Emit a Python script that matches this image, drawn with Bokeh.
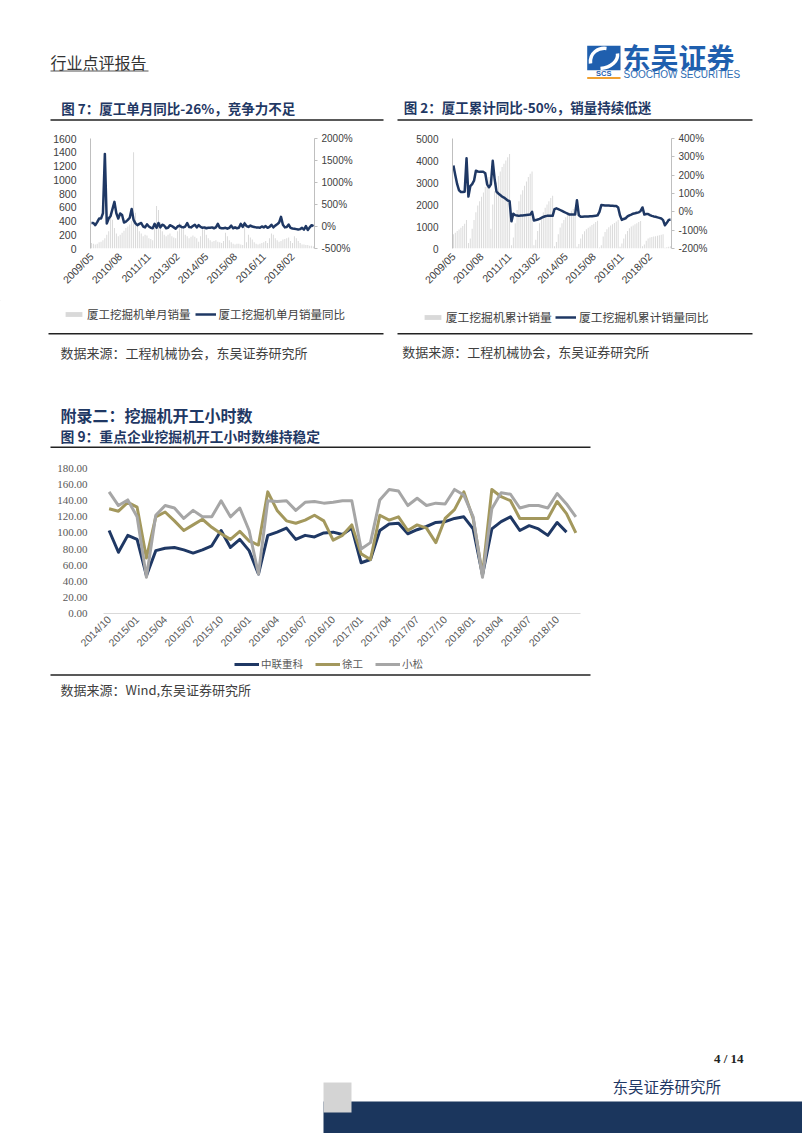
import math
import pandas as pd
from bokeh.plotting import figure
from bokeh.layouts import column, row
from bokeh.models import (Range1d, LinearAxis, SingleIntervalTicker, FixedTicker,
                          PrintfTickFormatter, Legend, LegendItem, Spacer)
from bokeh.core.properties import value
from bokeh.embed import file_html
from bokeh.resources import INLINE

# ---------------- data ----------------
# Xiagong excavator sales, monthly 2009/05 - 2019/01
xg_months = list(pd.period_range("2009-05", periods=117, freq="M").strftime("%Y/%m"))
xg_tick_labels = ["2009/05", "2010/08", "2011/11", "2013/02",
                  "2014/05", "2015/08", "2016/11", "2018/02"]

xg_monthly_sales = [
    80, 70, 60, 70, 90, 100, 120, 150,
    200, 250, 450, 420, 300, 220, 180, 200, 230, 260, 300, 320,
    350, 400, 1400, 520, 330, 250, 220, 180, 200, 190, 150, 140,
    120, 300, 620, 560, 380, 250, 200, 180, 200, 220, 180, 160,
    150, 250, 380, 350, 280, 200, 180, 150, 170, 190, 170, 150,
    100, 180, 330, 300, 200, 150, 120, 100, 110, 120, 100, 90,
    80, 110, 230, 180, 120, 90, 70, 60, 70, 70, 60, 50,
    400, 90, 200, 160, 130, 90, 70, 60, 70, 80, 90, 110,
    80, 150, 220, 200, 150, 120, 100, 110, 130, 140, 150, 160,
    110, 80, 180, 150, 110, 80, 60, 60, 50, 50, 40, 40,
    30]
xg_monthly_yoy = [
    80, 80, 30, 100, 180, 180, 300, 1650, 70, 180,
    240, 400, 560, 300, 180, 295, 260, 90, 110, 150,
    200, 400, 150, 70, 30, 60, 80, 0, -20, 50,
    0, -30, -40, 60, -30, 80, -20, 40, 20, -40,
    -30, 30, 10, -20, -50, 0, 20, -10, -20, 0,
    80, -10, -20, 10, 40, -20, 30, -10, -30, -20,
    -40, -30, -30, -20, -40, -20, 60, -30, -40, -40,
    -30, -50, -30, 20, -40, -20, -40, -30, 60, -10,
    70, 10, -10, 20, 0, -10, -20, -20, -30, 0,
    -20, 10, -30, -10, 40, -20, 20, 50, 90, 220,
    40, -20, -10, 45, -30, -45, -50, -60, -70, -60,
    -30, -70, 8, -80, -20, 30, 10]
xg_cum_sales = [
    650, 720, 790, 860, 940, 1020, 1120, 1300,
    250, 450, 900, 1300, 1650, 1950, 2150, 2350, 2550, 2800, 3050, 3250,
    900, 2000, 2600, 3000, 3300, 3500, 3700, 3850, 4000, 4150, 4300,
    150, 500, 1150, 1750, 2150, 2450, 2650, 2850, 3050, 3250, 3400, 3500,
    150, 400, 800, 1150, 1450, 1650, 1850, 2000, 2150, 2300, 2400,
    100, 300, 650, 950, 1150, 1300, 1420, 1520, 1620, 1720, 1800, 1870,
    80, 200, 450, 650, 780, 870, 940, 1000, 1070, 1130, 1200, 1260,
    50, 150, 550, 750, 880, 970, 1040, 1100, 1160, 1230, 1300,
    80, 230, 450, 650, 800, 920, 1000, 1050, 1100, 1150, 1200, 1250,
    100, 180, 350, 450, 500, 520, 540, 560, 580, 600, 620, 650,
    30, 60, 80, 100]
xg_cum_yoy = [
    253, 200, 151, 117, 108, 108, 110, 292, 83, 140,
    151, 170, 224, 220, 218, 218, 218, 210, 150, 134,
    150, 278, 180, 110, 100, 92, 83, 78, 70, 62,
    58, -52, -10, -18, -20, -22, -20, -20, -18, -17,
    -16, -15, 0, -47, -45, -42, -38, -33, -28, -24,
    -22, -22, -22, -22, 15, 19, 15, 10, 5, 0,
    -5, -10, -15, -15, -15, -15, 63, -19, -27, -27,
    -26, -25, -25, -24, -24, -23, -22, -19, 0, 37,
    36, 35, 35, 34, 33, 33, 32, 32, 24, -20,
    -44, -39, -35, -25, -19, -15, -10, -8, -5, -3,
    5, 24, -15, -12, -12, -18, -22, -25, -27, -30,
    -33, -36, -45, -73, -60, -44, -42]

# Excavator working hours, monthly 2014/10 - 2018/12
hours_months = list(pd.period_range("2014-10", periods=51, freq="M").strftime("%Y/%m"))
hours_tick_labels = ["2014/10", "2015/01", "2015/04", "2015/07", "2015/10",
                     "2016/01", "2016/04", "2016/07", "2016/10", "2017/01",
                     "2017/04", "2017/07", "2017/10", "2018/01", "2018/04",
                     "2018/07", "2018/10"]
series_names = ["中联重科", "徐工", "小松"]
zoomlion_hours = [103, 76, 97, 92, 47, 78, 81, 82, 79, 75,
                  79, 84, 103, 82, 92, 78, 49, 97, 101, 106,
                  92, 97, 95, 100, 101, 98, 106, 63, 67, 103,
                  111, 112, 99, 104, 108, 113, 114, 118, 120, 105,
                  48, 105, 114, 120, 103, 109, 105, 97, 113, 101]
xcmg_hours = [130, 127, 138, 132, 69, 120, 126, 115, 103, 110,
              117, 107, 99, 92, 102, 90, 85, 151, 128, 115,
              112, 116, 122, 115, 91, 97, 110, 74, 67, 122,
              116, 120, 103, 110, 106, 88, 118, 129, 151, 118,
              48, 154, 145, 140, 118, 118, 118, 118, 139, 124, 100]
komatsu_hours = [151, 134, 141, 120, 45, 122, 134, 131, 118, 128,
                 120, 120, 140, 120, 131, 103, 49, 140, 139, 140,
                 128, 138, 139, 137, 138, 140, 140, 80, 88, 141,
                 154, 152, 134, 143, 134, 137, 136, 154, 147, 120,
                 45, 130, 150, 148, 131, 134, 134, 131, 149, 136, 120]

# ---------------- styles ----------------
CJK = "Noto Sans CJK SC"
NAVY = "#1f3864"
BAR_GRAY = "#d9d9d9"
GOLD = "#a3985d"
LGRAY = "#a6a6a6"
LOGO_BLUE = "#1f5fae"
PAGE_W = 802


def deco(y_top, y_bottom):
    p = figure(width=PAGE_W, height=int(y_bottom - y_top), x_range=Range1d(0, PAGE_W),
               y_range=Range1d(y_bottom, y_top), min_border=0,
               toolbar_location=None, output_backend="svg",
               x_axis_type=None, y_axis_type=None, outline_line_color=None)
    return p


def txt(p, x, y, s, size, color, font=CJK, style="normal", align="left"):
    p.text(x=[x], y=[y], text=[s], text_font=value(font),
           text_font_size=value(size), text_color=color,
           text_font_style=style, text_align=align, text_baseline="middle")


def rule(p, x0, x1, y, width=1.5, color="#222222"):
    p.segment(x0=[x0], y0=[y], x1=[x1], y1=[y], line_color=color, line_width=width)


def make_legend(items, loc, font_size, glyph_w, spacing, standoff, label_h, color):
    return Legend(items=items, location=loc, orientation="horizontal",
                  border_line_color=None, background_fill_alpha=0, padding=0,
                  margin=0, spacing=spacing, label_standoff=standoff,
                  glyph_width=glyph_w, glyph_height=6, label_height=label_h,
                  label_text_font=CJK, label_text_font_size=font_size,
                  label_text_color=color)


# legend swatch renderers sit off-screen (outside the band's range)
OFF = [-50, -40]

# ---------------- header band (y 0..125) ----------------
A = deco(0, 125)
txt(A, 50, 61, "行业点评报告", "16px", "#333333")
rule(A, 50, 148, 70.5, 1.2, "#555555")
A.quad(left=[586.7], right=[620], top=[45.3], bottom=[69.7], fill_color=LOGO_BLUE, line_color=None)
A.bezier(x0=[590, 600], y0=[63, 68], x1=[606, 617], y1=[48, 53],
         cx0=[589, 611], cy0=[52, 67], cx1=[598, 618], cy1=[47, 60],
         line_color="white", line_width=3.5)
txt(A, 603.3, 73, "SCS", "7.5px", LOGO_BLUE, font="Liberation Sans", style="bold", align="center")
rule(A, 586.7, 620, 77.6, 2, "#f0a030")
txt(A, 622, 56.5, "东吴证券", "28px", LOGO_BLUE, style="bold")
txt(A, 623, 73.8, "SOOCHOW SECURITIES", "10px", "#2e6db4", font="Liberation Sans")
txt(A, 60.7, 107, "图 7：厦工单月同比-26%，竞争力不足", "13.5px", NAVY, style="bold")
txt(A, 403.3, 106.5, "图 2：厦工累计同比-50%，销量持续低迷", "13.5px", NAVY, style="bold")
rule(A, 50, 383, 119.5, 1.6)
rule(A, 397, 752, 119.5, 1.6)


def axis_common(ax, font, size, color):
    ax.major_label_text_font = font
    ax.major_label_text_font_size = size
    ax.major_label_text_color = color
    ax.minor_tick_line_color = None


xg_idx = list(range(len(xg_months)))
xg_ticks = [xg_months.index(t) for t in xg_tick_labels]


def xg_chart(width, bl, br, bt, bb, bars, yoy, ymax, yint, pmin, pmax, pint, lsize, rsize):
    p = figure(width=width, height=175, x_range=Range1d(-0.5, len(xg_months) - 0.5),
               y_range=Range1d(0, ymax), min_border_left=bl, min_border_right=br,
               min_border_top=bt, min_border_bottom=bb, toolbar_location=None,
               output_backend="svg", x_axis_type=None, y_axis_type=None,
               outline_line_color=None)
    p.extra_y_ranges = {"pct": Range1d(pmin, pmax)}
    p.vbar(x=xg_idx, top=bars, width=0.5, fill_color=BAR_GRAY, line_color=None)
    p.line(x=xg_idx, y=yoy, y_range_name="pct", line_color=NAVY, line_width=2.5,
           line_join="round")
    ax_l = LinearAxis(ticker=SingleIntervalTicker(interval=yint),
                      axis_line_color="#bfbfbf", major_tick_line_color=None,
                      major_tick_out=0, major_label_standoff=10)
    axis_common(ax_l, "Liberation Sans", lsize, "#404040")
    p.add_layout(ax_l, "left")
    ax_r = LinearAxis(y_range_name="pct", ticker=SingleIntervalTicker(interval=pint),
                      formatter=PrintfTickFormatter(format="%d%%"),
                      axis_line_color="#bfbfbf", major_tick_line_color="#bfbfbf",
                      major_tick_in=0, major_tick_out=3, major_label_standoff=3)
    axis_common(ax_r, "Liberation Sans", rsize, "#404040")
    p.add_layout(ax_r, "right")
    ax_b = LinearAxis(ticker=FixedTicker(ticks=xg_ticks),
                      major_label_overrides={t: lab for t, lab in zip(xg_ticks, xg_tick_labels)},
                      major_label_orientation=math.pi / 4, axis_line_color=None,
                      major_tick_line_color=None, major_tick_out=0, major_label_standoff=6)
    axis_common(ax_b, "Liberation Sans", "10.5px", "#404040")
    p.add_layout(ax_b, "below")
    return p


# charts 1 and 2 (y 125..300)
p1 = xg_chart(390, 90, 76, 13, 52, xg_monthly_sales, xg_monthly_yoy, 1600, 200,
              -500, 2000, 500, "10.5px", "10px")
p2 = xg_chart(412, 62, 131, 9, 48, xg_cum_sales, xg_cum_yoy, 5000, 1000,
              -200, 400, 100, "10px", "10px")

# ---------------- middle band (y 300..455) ----------------
C = deco(300, 455)
lg_b1 = C.vbar(x=OFF, top=[0, 0], width=1, fill_color=BAR_GRAY, line_color=None)
lg_l1 = C.line(x=OFF, y=OFF, line_color=NAVY, line_width=2.5)
lg_b2 = C.vbar(x=OFF, top=[0, 0], width=1, fill_color=BAR_GRAY, line_color=None)
lg_l2 = C.line(x=OFF, y=OFF, line_color=NAVY, line_width=2.5)
C.add_layout(make_legend([LegendItem(label="厦工挖掘机单月销量", renderers=[lg_b1]),
                          LegendItem(label="厦工挖掘机单月销量同比", renderers=[lg_l1])],
                         (63, 132.5), "11.5px", 21, 4, 3, 17, "#404040"), "center")
C.add_layout(make_legend([LegendItem(label="厦工挖掘机累计销量", renderers=[lg_b2]),
                          LegendItem(label="厦工挖掘机累计销量同比", renderers=[lg_l2])],
                         (421.7, 129.8), "11.8px", 21, 3, 3, 17, "#404040"), "center")
rule(C, 48, 383, 333.3, 1.4)
rule(C, 397, 752, 333.3, 1.4)
txt(C, 60, 351.5, "数据来源：工程机械协会，东吴证券研究所", "13px", "#404040")
txt(C, 401.7, 350.7, "数据来源：工程机械协会，东吴证券研究所", "13px", "#404040")
txt(C, 60, 414.5, "附录二：挖掘机开工小时数", "16px", NAVY, style="bold")
txt(C, 60, 435, "图 9：重点企业挖掘机开工小时数维持稳定", "13.8px", NAVY, style="bold")
rule(C, 50, 590, 446.7, 1.6)

# ---------------- working hours chart (y 455..655) ----------------
h_idx = list(range(len(hours_months)))
h_ticks = [hours_months.index(t) for t in hours_tick_labels]
p3 = figure(width=600, height=200, x_range=Range1d(-0.6, 50.5), y_range=Range1d(0, 180),
            min_border_left=103, min_border_right=20, min_border_top=13,
            min_border_bottom=42, toolbar_location=None, output_backend="svg",
            x_axis_type=None, y_axis_type=None, outline_line_color=None)
p3.line(x=h_idx[:len(zoomlion_hours)], y=zoomlion_hours, line_color=NAVY,
        line_width=3, line_join="round")
p3.line(x=h_idx[:len(xcmg_hours)], y=xcmg_hours, line_color=GOLD,
        line_width=3, line_join="round")
p3.line(x=h_idx[:len(komatsu_hours)], y=komatsu_hours, line_color=LGRAY,
        line_width=3, line_join="round")
ax3l = LinearAxis(ticker=SingleIntervalTicker(interval=20),
                  formatter=PrintfTickFormatter(format="%.2f"),
                  axis_line_color=None, major_tick_line_color=None, major_tick_out=0,
                  major_label_standoff=12)
axis_common(ax3l, "Liberation Serif", "11px", "#595959")
p3.add_layout(ax3l, "left")
ax3b = LinearAxis(ticker=FixedTicker(ticks=h_ticks),
                  major_label_overrides={t: lab for t, lab in zip(h_ticks, hours_tick_labels)},
                  major_label_orientation=math.pi / 4, axis_line_color="#d9d9d9",
                  major_tick_line_color=None, major_tick_out=0, major_label_standoff=4)
axis_common(ax3b, "Liberation Sans", "10.5px", "#595959")
p3.add_layout(ax3b, "below")

# ---------------- bottom band (y 655..1133) ----------------
E = deco(655, 1133)
lg_z = E.line(x=OFF, y=OFF, line_color=NAVY, line_width=3)
lg_x = E.line(x=OFF, y=OFF, line_color=GOLD, line_width=3)
lg_k = E.line(x=OFF, y=OFF, line_color=LGRAY, line_width=3)
E.add_layout(make_legend([LegendItem(label=series_names[0], renderers=[lg_z]),
                          LegendItem(label=series_names[1], renderers=[lg_x]),
                          LegendItem(label=series_names[2], renderers=[lg_k])],
                         (234, 462), "10.5px", 25, 12, 2, 15, "#595959"), "center")
rule(E, 50, 590, 674.5, 1.4)
txt(E, 60, 689, "数据来源：Wind,东吴证券研究所", "13px", "#404040")
txt(E, 743, 1058, "4 / 14", "13px", "#222222", font="Liberation Serif", style="bold", align="right")
txt(E, 612, 1085.5, "东吴证券研究所", "15.5px", NAVY)
E.quad(left=[323], right=[802], top=[1101], bottom=[1133], fill_color="#1b365d", line_color=None)
E.quad(left=[323], right=[351], top=[1082], bottom=[1112], fill_color="#d4d4d4", line_color=None)

layout = column(A, row(p1, p2), C, row(p3, Spacer(width=202, height=200)), E)
open("out.html", "w").write(file_html(layout, INLINE))
